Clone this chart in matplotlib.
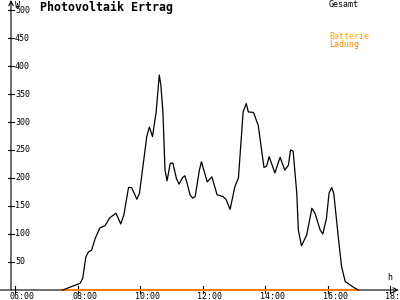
import matplotlib
matplotlib.use("Agg")
import matplotlib.pyplot as plt

# Gesamt (W) over the day
times = ["07:32", "08:05", "08:10", "08:16", "08:21", "08:27", "08:34", "08:43",
         "08:53", "09:02", "09:14", "09:23", "09:29", "09:38", "09:44", "09:54",
         "09:59", "10:13", "10:18", "10:24", "10:31", "10:37", "10:40", "10:44",
         "10:48", "10:52", "10:58", "11:03", "11:10", "11:15", "11:22", "11:26",
         "11:30", "11:36", "11:41", "11:46", "11:54", "11:58", "12:09", "12:18",
         "12:28", "12:39", "12:45", "12:53", "13:02", "13:09", "13:18", "13:24",
         "13:28", "13:38", "13:47", "13:58", "14:03", "14:08", "14:19", "14:29",
         "14:38", "14:45", "14:49", "14:54", "15:01", "15:04", "15:10", "15:20",
         "15:30", "15:36", "15:46", "15:51", "15:58", "16:03", "16:08", "16:12",
         "16:21", "16:27", "16:34", "16:53", "16:59"]
gesamt = [0, 12, 21, 59, 68, 71, 92, 111,
          115, 129, 137, 118, 134, 183, 183, 162,
          173, 274, 291, 274, 318, 384, 366, 318,
          214, 195, 226, 227, 199, 189, 201, 204,
          192, 170, 164, 167, 214, 229, 193, 202,
          170, 167, 162, 144, 184, 200, 318, 333,
          318, 317, 294, 219, 221, 238, 209, 237,
          214, 223, 250, 248, 173, 107, 79, 98,
          146, 137, 107, 100, 128, 173, 183, 173,
          92, 42, 15, 3, 0]

# Batterie Ladung (zero all day)
lad_times = ["07:32", "16:59"]
ladung = [0, 0]

yticks = [50, 100, 150, 200, 250, 300, 350, 400, 450, 500]
xticks = [6, 8, 10, 12, 14, 16, 18]


def hours(s):
    hh, mm = s.split(":")
    return int(hh) + int(mm) / 60.0


fig = plt.figure(figsize=(4, 3), dpi=100)
ax = fig.add_axes([0, 0, 1, 1])
ax.set_xlim(5.52, 18.32)
ax.set_ylim(-17.86, 517.86)
ax.axis("off")

px = 1 / 31.25      # hours per pixel
py = 1 / 0.56       # watts per pixel
yax = 6 - 4 * px

mono = "DejaVu Sans Mono"

# axes
ax.annotate("", xy=(18.32, 0), xytext=(5.52, 0),
            arrowprops=dict(arrowstyle="->", lw=0.8, color="black",
                            shrinkA=0, shrinkB=1, mutation_scale=8))
ax.annotate("", xy=(yax, 517.86), xytext=(yax, 0),
            arrowprops=dict(arrowstyle="->", lw=0.8, color="black",
                            shrinkA=0, shrinkB=0, mutation_scale=8))

for v in yticks:
    ax.plot([yax - 3 * px, yax + 3 * px], [v, v], color="black", lw=0.8)
    ax.text(6.0, v, str(v), fontsize=6, family=mono, va="center", ha="left")

for t in xticks:
    ax.plot([t, t], [-3.5 * py, 3.5 * py], color="black", lw=0.8)
    ax.text(t - 5 * px, -2 * py, "%02d:00" % t, fontsize=6, family=mono,
            va="top", ha="left")

ax.text(6.0, 516, "W", fontsize=6, family=mono, va="top", ha="left")
ax.text(18.0 - 3 * px, 8 * py, "h", fontsize=6, family=mono, va="bottom", ha="left")

# series
ax.plot([hours(s) for s in lad_times], ladung, color="#ff8000", lw=1.5, zorder=3)
ax.plot([hours(s) for s in times], gesamt, color="black", lw=0.9, zorder=4)

# title and legend
ax.text(6 + 25 * px, 517, "Photovoltaik Ertrag", fontsize=8.4, family=mono,
        weight="bold", va="top", ha="left")
ax.text(6 + 314 * px, 517, "Gesamt", fontsize=6, family=mono, color="black",
        va="top", ha="left")
ax.text(6 + 314 * px, 290 * py - 32 * py, "Batterie", fontsize=6, family=mono,
        color="#ffa500", va="top", ha="left")
ax.text(6 + 314 * px, 290 * py - 40 * py, "Ladung", fontsize=6, family=mono,
        color="#ff8000", va="top", ha="left")

fig.savefig("out.png", dpi=100)
